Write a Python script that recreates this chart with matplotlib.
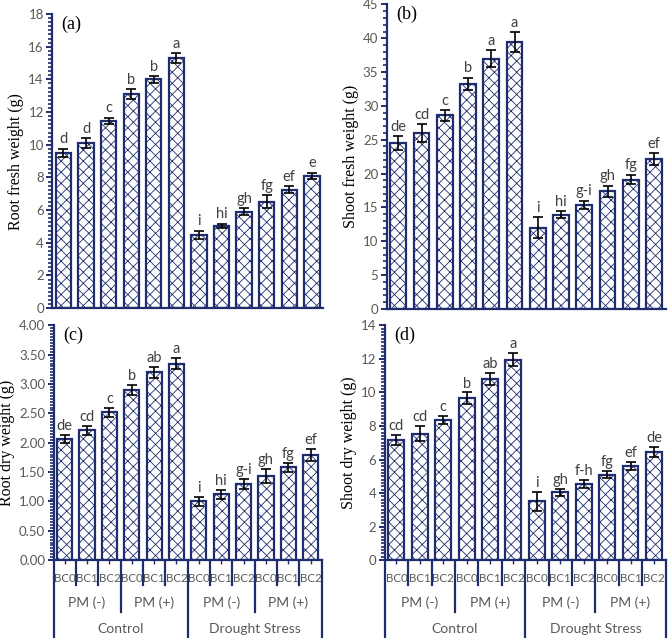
import matplotlib
matplotlib.use("Agg")
import matplotlib.pyplot as plt
from matplotlib.ticker import MultipleLocator, FormatStrFormatter

# x categories
bc = ["BC0", "BC1", "BC2"] * 4
pm = ["PM (-)", "PM (+)", "PM (-)", "PM (+)"]
cond = ["Control", "Drought Stress"]

# (a) root fresh weight
rfw = [9.5, 10.1, 11.45, 13.1, 14.0, 15.3, 4.5, 5.05, 5.9, 6.5, 7.25, 8.1]
rfw_err = [0.25, 0.3, 0.2, 0.3, 0.2, 0.3, 0.25, 0.12, 0.2, 0.4, 0.2, 0.2]
rfw_let = ["d", "d", "c", "b", "b", "a", "i", "hi", "gh", "fg", "ef", "e"]

# (b) shoot fresh weight
sfw = [24.5, 26.0, 28.6, 33.3, 37.0, 39.4, 12.0, 13.9, 15.4, 17.4, 19.1, 22.1]
sfw_err = [1.0, 1.3, 0.8, 0.9, 1.2, 1.5, 1.5, 0.5, 0.6, 0.8, 0.7, 0.9]
sfw_let = ["de", "cd", "c", "b", "a", "a", "i", "hi", "g-i", "gh", "fg", "ef"]

# (c) root dry weight
rdw = [2.06, 2.21, 2.52, 2.90, 3.20, 3.35, 1.00, 1.12, 1.30, 1.44, 1.58, 1.79]
rdw_err = [0.07, 0.07, 0.08, 0.09, 0.09, 0.10, 0.07, 0.07, 0.09, 0.12, 0.07, 0.10]
rdw_let = ["de", "cd", "c", "b", "ab", "a", "i", "hi", "g-i", "gh", "fg", "ef"]

# (d) shoot dry weight
sdw = [7.15, 7.55, 8.35, 9.65, 10.8, 11.95, 3.5, 4.05, 4.55, 5.1, 5.6, 6.45]
sdw_err = [0.3, 0.45, 0.25, 0.35, 0.35, 0.4, 0.55, 0.2, 0.25, 0.2, 0.25, 0.3]
sdw_let = ["cd", "cd", "c", "b", "ab", "a", "i", "gh", "f-h", "fg", "ef", "de"]

navy = "#1f2d6e"
gray = "#595959"
plt.rcParams["hatch.color"] = navy
plt.rcParams["hatch.linewidth"] = 0.6

fig = plt.figure(figsize=(6.69, 6.38), dpi=100)

panels = [
    ([0.078, 0.517, 0.405, 0.461], rfw, rfw_err, rfw_let, "(a)", "Root fresh weight (g)", 18, 2, 0.25, "%d", False),
    ([0.578, 0.516, 0.417, 0.477], sfw, sfw_err, sfw_let, "(b)", "Shoot fresh weight (g)", 45, 5, 1, "%d", False),
    ([0.080, 0.122, 0.401, 0.368], rdw, rdw_err, rdw_let, "(c)", "Root dry weight (g)", 4, 0.5, 0.05, "%.2f", True),
    ([0.575, 0.122, 0.420, 0.368], sdw, sdw_err, sdw_let, "(d)", "Shoot dry weight (g)", 14, 2, 0.2, "%d", True),
]

x = list(range(12))
for rect, vals, errs, lets, tag, ylab, ymax, major, minor, fmt, bottom in panels:
    ax = fig.add_axes(rect)
    ax.bar(x, vals, width=0.68, color="white", edgecolor=navy, linewidth=1.6, hatch="xxx")
    ax.errorbar(x, vals, yerr=errs, fmt="none", ecolor="black", elinewidth=1.2, capsize=3.5, capthick=1.2)
    for xi, v, e, l in zip(x, vals, errs, lets):
        ax.text(xi, v + e + ymax * 0.008, l, ha="center", va="bottom", fontsize=10.5,
                color="#404040", family="Lato")
    ax.set_xlim(-0.5, 11.5)
    ax.set_ylim(0, ymax)
    ax.yaxis.set_major_locator(MultipleLocator(major))
    ax.yaxis.set_minor_locator(MultipleLocator(minor))
    ax.yaxis.set_major_formatter(FormatStrFormatter(fmt))
    for s in ["top", "right"]:
        ax.spines[s].set_visible(False)
    for s in ["left", "bottom"]:
        ax.spines[s].set_color(navy)
        ax.spines[s].set_linewidth(1.6)
    ax.tick_params(axis="y", which="major", length=4, width=1.4, color=navy,
                   labelsize=9.5, labelcolor=gray, pad=2)
    ax.tick_params(axis="y", which="minor", length=3, width=1.2, color=navy)
    for t in ax.get_yticklabels():
        t.set_family("Lato")
    ax.set_ylabel(ylab, family="Liberation Serif", fontsize=11.5, labelpad=3)
    ax.text(0.035, 0.995, tag, transform=ax.transAxes, ha="left", va="top",
            family="Liberation Serif", fontsize=13)
    ax.set_xticks(x)
    if not bottom:
        ax.tick_params(axis="x", length=0, labelbottom=False)
        continue
    ax.tick_params(axis="x", length=3, width=1, color=navy, labelbottom=False)
    h = rect[3] * 638  # axes height in px
    tr = ax.get_xaxis_transform()
    fy = lambda px: -px / h
    for i, lab in enumerate(bc):
        ax.text(i, fy(18), lab, transform=tr, ha="center", va="center",
                fontsize=8.3, color=gray, family="Lato")
    for j, lab in enumerate(pm):
        ax.text(3 * j + 1, fy(43), lab, transform=tr, ha="center", va="center",
                fontsize=10, color=gray, family="Lato")
    for k, lab in enumerate(cond):
        ax.text(6 * k + 2.5, fy(69), lab, transform=tr, ha="center", va="center",
                fontsize=10, color=gray, family="Lato")
    for b in [i + 0.5 for i in range(-1, 12)]:
        if b in (-0.5, 5.5, 11.5):
            low = fy(80)
        elif b in (2.5, 8.5):
            low = fy(52)
        else:
            low = fy(25)
        ax.plot([b, b], [0, low], transform=tr, color=navy, lw=1.6, clip_on=False)

fig.savefig("out.png", dpi=100)
